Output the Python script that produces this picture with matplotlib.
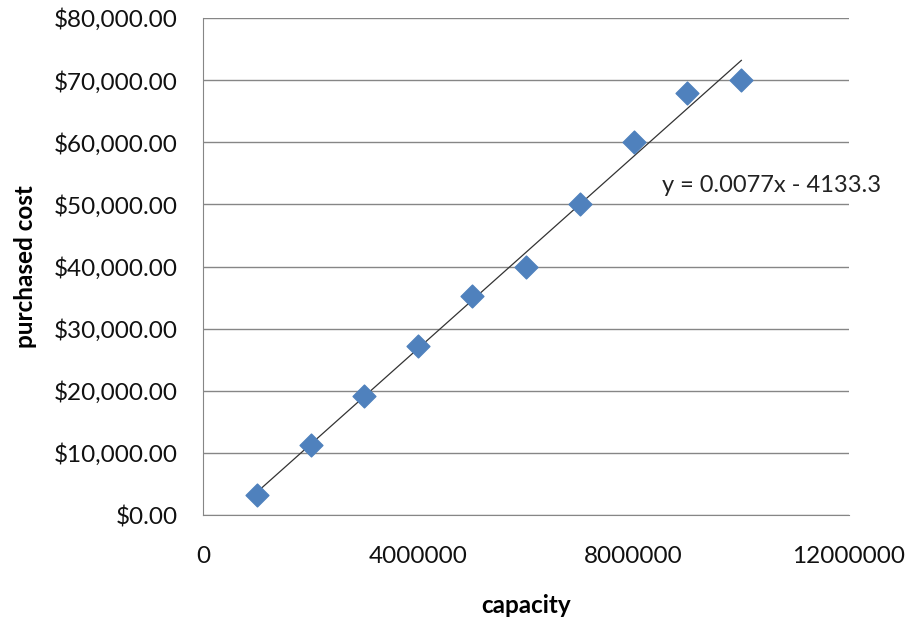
import matplotlib.pyplot as plt
import numpy as np
from matplotlib.ticker import FuncFormatter, MultipleLocator

plt.rcParams['font.family'] = ['Lato', 'DejaVu Sans']

capacity = [1000000, 2000000, 3000000, 4000000, 5000000,
            6000000, 7000000, 8000000, 9000000, 10000000]
cost = [3300, 11300, 19200, 27200, 35200, 40000, 50000, 60000, 68000, 70000]
equation = 'y = 0.0077x - 4133.3'

grid_col = '#868686'

fig = plt.figure(figsize=(9.09, 6.27), dpi=100)
ax = fig.add_axes([0.2233, 0.1786, 0.7107, 0.7927])

# linear trendline
m, b = np.polyfit(capacity, cost, 1)
xs = np.array([min(capacity), max(capacity)])
ax.plot(xs, m * xs + b, color='#333333', lw=0.9, zorder=2)

ax.scatter(capacity, cost, marker='D', s=135, color='#4F81BD', zorder=3)

ax.text(8520000, 53000, equation, fontsize=17, color='#222222', va='center')

ax.set_xlim(0, 12000000)
ax.set_ylim(0, 80000)
ax.xaxis.set_major_locator(MultipleLocator(4000000))
ax.yaxis.set_major_locator(MultipleLocator(10000))
ax.xaxis.set_major_formatter(FuncFormatter(lambda v, p: '%d' % v))
ax.yaxis.set_major_formatter(FuncFormatter(lambda v, p: '${:,.2f}'.format(v)))
ax.yaxis.grid(True, color=grid_col, lw=1)
ax.set_axisbelow(True)

for s in ['top', 'right']:
    ax.spines[s].set_visible(False)
for s in ['left', 'bottom']:
    ax.spines[s].set_color(grid_col)
ax.tick_params(axis='both', length=0, colors='#111111')
ax.tick_params(axis='x', pad=22, labelsize=17.5)
ax.tick_params(axis='y', pad=18, labelsize=17.5)

ax.set_xlabel('capacity', fontsize=17.5, fontweight='bold', labelpad=20)
ax.set_ylabel('purchased cost', fontsize=17.5, fontweight='bold', labelpad=12)

fig.savefig('out.png', dpi=100)
